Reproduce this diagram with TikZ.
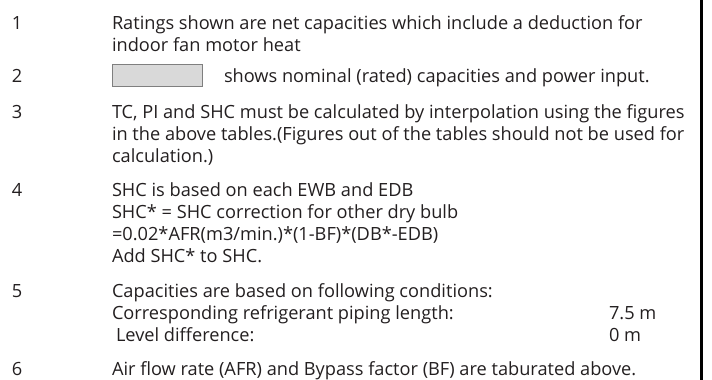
\documentclass[tikz,border=0pt]{standalone}
\usepackage{fontspec}
\setmainfont{Open Sans}
\definecolor{txt}{HTML}{231F20}
\definecolor{boxfill}{HTML}{D9D9D9}
\definecolor{boxline}{HTML}{7F7F7F}
\begin{document}
\begin{tikzpicture}[x=1pt,y=-1pt,
  every node/.style={inner sep=0pt,outer sep=0pt,anchor=base west,text=txt,font=\fontsize{18.2}{18}\selectfont},
  num/.style={},
  line/.style={}]
\useasboundingbox (0,0) rectangle (712,380);
% item 1
\node[num] (n1) at (12,29) {1};
\node[line] (t1a) at (112,29) {Ratings shown are net capacities which include a deduction for};
\node[line] (t1b) at (112,51) {indoor fan motor heat};
% item 2
\node[num] (n2) at (12,82) {2};
\node[draw=boxline,fill=boxfill,line width=0.8pt,minimum width=90pt,minimum height=22pt,anchor=north west] (box) at (112,64) {};
\node[line] (t2) at (224,82) {shows nominal (rated) capacities and power input.};
% item 3
\node[num] (n3) at (12,118) {3};
\node[line] (t3a) at (112,118) {TC, PI and SHC must be calculated by interpolation using the figures};
\node[line] (t3b) at (112,140) {in the above tables.(Figures out of the tables should not be used for};
\node[line] (t3c) at (112,162) {calculation.)};
% item 4
\node[num] (n4) at (12,196) {4};
\node[line] (t4a) at (112,196) {SHC is based on each EWB and EDB};
\node[line] (t4b) at (112,218) {SHC* = SHC correction for other dry bulb};
\node[line] (t4c) at (112,240) {=0.02*AFR(m3/min.)*(1-BF)*(DB*-EDB)};
\node[line] (t4d) at (112,262) {Add SHC* to SHC.};
% item 5
\node[num] (n5) at (12,297) {5};
\node[line] (t5a) at (112,297) {Capacities are based on following conditions:};
\node[line] (t5b) at (112,319) {Corresponding refrigerant piping length:};
\node[line] (v5b) at (609,319) {7.5 m};
\node[line] (t5c) at (116,341) {Level difference:};
\node[line] (v5c) at (609,341) {0 m};
% item 6
\node[num] (n6) at (12,375) {6};
\node[line] (t6) at (112,375) {Air flow rate (AFR) and Bypass factor (BF) are taburated above.};
% right rule
\coordinate (rt) at (701.5,0);
\coordinate (rb) at (701.5,380);
\draw[line width=2.3pt,black] (rt) -- (rb);
\end{tikzpicture}
\end{document}
